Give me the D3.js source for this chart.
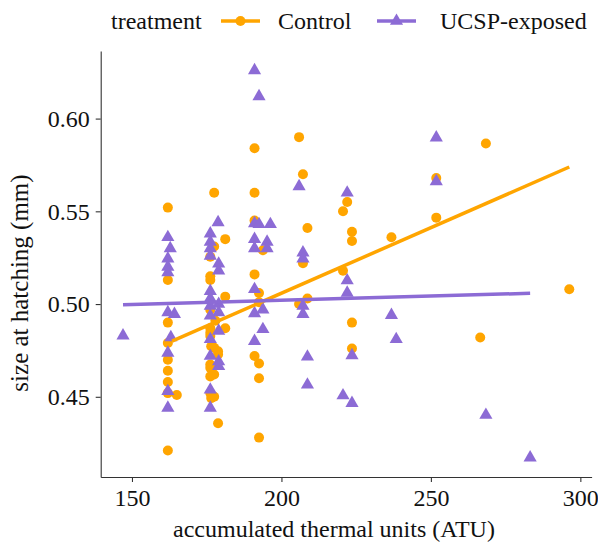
<!DOCTYPE html>
<html>
<head>
<meta charset="utf-8">
<script src="https://cdn.jsdelivr.net/npm/d3@7"></script>
<style>
  body { margin: 0; background: #fff; }
  text { font-family: "Liberation Serif", "DejaVu Serif", serif; }
</style>
</head>
<body>
<svg width="598" height="544"></svg>
<script>
// Control points: [ATU, size at hatching]
const controlPts = [
  [162, 0.552], [162, 0.513], [162, 0.490], [162, 0.479], [162, 0.470], [162, 0.464],
  [162, 0.458], [162, 0.452], [165, 0.451], [162, 0.421],
  [177.5, 0.560], [177.5, 0.531], [176.2, 0.5255], [176.2, 0.515], [176.2, 0.513],
  [181.2, 0.535], [181.2, 0.504], [176.2, 0.497], [177.9, 0.491], [176.2, 0.487],
  [181.2, 0.487], [176.2, 0.4846], [176.2, 0.4828], [176.5, 0.4773], [177.5, 0.4764],
  [178.8, 0.4746], [178.8, 0.4728], [176.2, 0.4674], [176.2, 0.4656], [177.5, 0.462],
  [176.2, 0.461], [176.2, 0.452], [177.5, 0.450], [176.5, 0.4493], [178.8, 0.4357],
  [191, 0.584], [191, 0.560], [191, 0.545], [193.8, 0.529], [191, 0.516], [192.5, 0.506],
  [192.5, 0.501], [191, 0.472], [192.5, 0.468], [192.5, 0.460], [192.5, 0.428],
  [205.9, 0.590], [207.2, 0.570], [208.7, 0.541], [207.2, 0.522], [205.9, 0.500], [208.7, 0.503],
  [222, 0.555], [220.6, 0.550], [223.6, 0.539], [223.6, 0.534], [220.6, 0.518],
  [223.6, 0.490], [223.6, 0.476],
  [236.8, 0.536], [251.8, 0.568], [251.8, 0.5466], [268.4, 0.5866], [266.5, 0.482], [296.3, 0.508]
];

// UCSP-exposed points
const ucspPts = [
  [147, 0.483],
  [162, 0.536], [162.8, 0.530], [162, 0.5245], [162, 0.520], [162, 0.517], [162, 0.4955],
  [164.2, 0.4946], [163, 0.482], [162, 0.4737], [162, 0.453], [162, 0.444],
  [178.8, 0.544], [176.2, 0.538], [176.2, 0.5335], [176.2, 0.530], [176.2, 0.526],
  [179, 0.5217], [179, 0.518], [176.2, 0.507], [176.2, 0.503], [179, 0.500], [176.2, 0.499],
  [179, 0.4955], [176.2, 0.4937], [179, 0.4855], [176.2, 0.481], [176.2, 0.472],
  [179, 0.469], [179, 0.4665], [176.2, 0.4538], [176.2, 0.444],
  [191, 0.626], [192.5, 0.612], [191, 0.5435], [192.5, 0.543], [196.3, 0.543], [191, 0.535],
  [195.2, 0.5335], [191, 0.530], [195.2, 0.530], [191, 0.508], [191, 0.495], [193.8, 0.497],
  [193.8, 0.4864], [191, 0.480],
  [205.9, 0.5634], [207.2, 0.5277], [207.2, 0.5245], [207.2, 0.499], [207.2, 0.4946],
  [208.7, 0.4716], [208.7, 0.4565],
  [222, 0.560], [222, 0.5127], [222, 0.506], [223.6, 0.4723], [220.6, 0.4507], [223.6, 0.4466],
  [236.8, 0.494], [238.4, 0.481], [251.8, 0.5897], [251.8, 0.5661], [268.4, 0.4402], [283.2, 0.4172]
];

// fitted lm lines (end points)
const controlFit = [[163.4, 0.480], [296.3, 0.5739]];
const ucspFit = [[147, 0.4996], [283.2, 0.5058]];

const xTicks = [150, 200, 250, 300];
const yTicks = [0.45, 0.50, 0.55, 0.60];
const legendLabels = ["Control", "UCSP-exposed"];

const ORANGE = "#FFA500", PURPLE = "#8C6BD5";

const svg = d3.select("svg"),
      margin = {top: 51, right: 6.4, bottom: 67, left: 100.7},
      width = +svg.attr("width"),
      height = +svg.attr("height");

const all = controlPts.concat(ucspPts);

// ggplot style 5% expansion
function expand(ext) {
  const pad = (ext[1] - ext[0]) * 0.05;
  return [ext[0] - pad, ext[1] + pad];
}

const x = d3.scaleLinear()
    .domain(expand(d3.extent(all, d => d[0])))
    .range([margin.left, width - margin.right]);

const y = d3.scaleLinear()
    .domain(expand(d3.extent(all, d => d[1])))
    .range([height - margin.bottom, margin.top]);

// Axes
const gx = svg.append("g")
    .attr("transform", `translate(0,${height - margin.bottom})`)
    .call(d3.axisBottom(x).tickValues(xTicks).tickFormat(d3.format("d")).tickSize(5).tickSizeOuter(0).tickPadding(7));

const gy = svg.append("g")
    .attr("transform", `translate(${margin.left},0)`)
    .call(d3.axisLeft(y).tickValues(yTicks).tickFormat(d3.format(".2f")).tickSize(5).tickSizeOuter(0).tickPadding(6));

[gx, gy].forEach(g => {
  g.select(".domain").attr("stroke", "#333").attr("stroke-width", 1.1);
  g.selectAll(".tick line").attr("stroke", "#333").attr("stroke-width", 1.1);
  g.selectAll(".tick text").attr("font-size", "24px").attr("fill", "#111")
    .style("font-family", "'Liberation Serif', serif");
});

// Axis titles
svg.append("text")
    .attr("x", 334)
    .attr("y", 537)
    .attr("text-anchor", "middle")
    .attr("font-size", "24px")
    .attr("fill", "#111")
    .text("accumulated thermal units (ATU)");

svg.append("text")
    .attr("transform", "translate(28,283) rotate(-90)")
    .attr("text-anchor", "middle")
    .attr("font-size", "25px")
    .attr("fill", "#111")
    .text("size at hatching (mm)");

// Points
const tri = d3.symbol().type(d3.symbolTriangle).size(75);

svg.append("g").selectAll("circle")
  .data(controlPts)
  .join("circle")
    .attr("cx", d => x(d[0]))
    .attr("cy", d => y(d[1]))
    .attr("r", 5)
    .attr("fill", ORANGE);

svg.append("g").selectAll("path")
  .data(ucspPts)
  .join("path")
    .attr("transform", d => `translate(${x(d[0])},${y(d[1])})`)
    .attr("d", tri)
    .attr("fill", PURPLE);

// Fitted lines
const line = d3.line().x(d => x(d[0])).y(d => y(d[1]));

svg.append("path").datum(controlFit)
    .attr("fill", "none").attr("stroke", ORANGE).attr("stroke-width", 3.5)
    .attr("d", line);

svg.append("path").datum(ucspFit)
    .attr("fill", "none").attr("stroke", PURPLE).attr("stroke-width", 3.5)
    .attr("d", line);

// Legend
const legend = svg.append("g").attr("transform", "translate(0,21)");

legend.append("text").attr("x", 111).attr("y", 8).attr("font-size", "24px").attr("fill", "#111").text("treatment");

const keyX = [221, 377];
const labelX = [278, 440];

legendLabels.forEach((lab, i) => {
  const c = i === 0 ? ORANGE : PURPLE;
  legend.append("line")
      .attr("x1", keyX[i]).attr("x2", keyX[i] + 39)
      .attr("y1", 0).attr("y2", 0)
      .attr("stroke", c).attr("stroke-width", 3.5);
  if (i === 0) {
    legend.append("circle").attr("cx", keyX[i] + 19.5).attr("cy", 0).attr("r", 5).attr("fill", c);
  } else {
    legend.append("path").attr("transform", `translate(${keyX[i] + 19.5},0)`).attr("d", tri).attr("fill", c);
  }
  legend.append("text").attr("x", labelX[i]).attr("y", 8).attr("font-size", "24px").attr("fill", "#111").text(lab);
});
</script>
</body>
</html>
